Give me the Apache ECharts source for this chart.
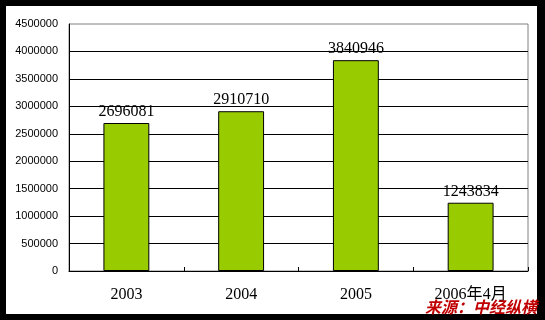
<!DOCTYPE html>
<html><head><meta charset="utf-8">
<script src="https://cdn.jsdelivr.net/npm/echarts@6/dist/echarts.min.js"></script>
<style>html,body{margin:0;padding:0;background:#fff}#c{width:545px;height:320px}</style>
</head><body><div id="c"></div>
<script>
const categories = ['2003', '2004', '2005', '2006年4月'];
const values = [2696081, 2910710, 3840946, 1243834];
const yMin = 0, yMax = 4500000, yStep = 500000;
const sourceText = '来源：中经纵横';

const chart = echarts.init(document.getElementById('c'));
chart.setOption({
  backgroundColor: '#fff',
  animation: false,
  grid: { left: 69, right: 17, top: 24, bottom: 49, show: true, borderColor: '#808080', borderWidth: 1 },
  xAxis: {
    type: 'category', data: categories,
    axisLine: { lineStyle: { color: '#000', width: 1 } },
    axisTick: { show: true, inside: true, length: 4, lineStyle: { color: '#000' } },
    axisLabel: { color: '#000', fontFamily: '"Liberation Serif","Noto Sans CJK SC",serif', fontSize: 16, margin: 16 }
  },
  yAxis: {
    type: 'value', min: yMin, max: yMax, interval: yStep,
    axisLine: { show: true, lineStyle: { color: '#000', width: 1 } },
    axisTick: { show: false },
    axisLabel: { color: '#000', fontFamily: 'Arial, "Liberation Sans", sans-serif', fontSize: 11, margin: 11,
                 formatter: v => String(v) },
    splitLine: { show: true, showMaxLine: false, lineStyle: { color: '#000', width: 1 } }
  },
  series: [{
    type: 'bar', data: values, barWidth: '40%',
    itemStyle: { color: '#99cc00', borderColor: '#000', borderWidth: 1 },
    label: { show: true, position: 'top', distance: 3, color: '#000', fontFamily: '"Liberation Serif",serif', fontSize: 16 }
  }],
  graphic: [
    { type: 'rect', shape: { x: 0, y: 0, width: 545, height: 6 }, style: { fill: '#000' }, z: 100 },
    { type: 'rect', shape: { x: 0, y: 314, width: 545, height: 6 }, style: { fill: '#000' }, z: 100 },
    { type: 'rect', shape: { x: 0, y: 0, width: 6, height: 320 }, style: { fill: '#000' }, z: 100 },
    { type: 'rect', shape: { x: 537, y: 0, width: 8, height: 320 }, style: { fill: '#000' }, z: 100 },
    { type: 'text', right: 8, top: 299, z: 101,
      style: { text: sourceText, fill: '#c00000', font: 'italic bold 16px "Noto Sans CJK SC", sans-serif',
               shadowColor: 'rgba(0,0,0,0.5)', shadowBlur: 1, shadowOffsetX: 1, shadowOffsetY: 1 } }
  ]
});
</script></body></html>
